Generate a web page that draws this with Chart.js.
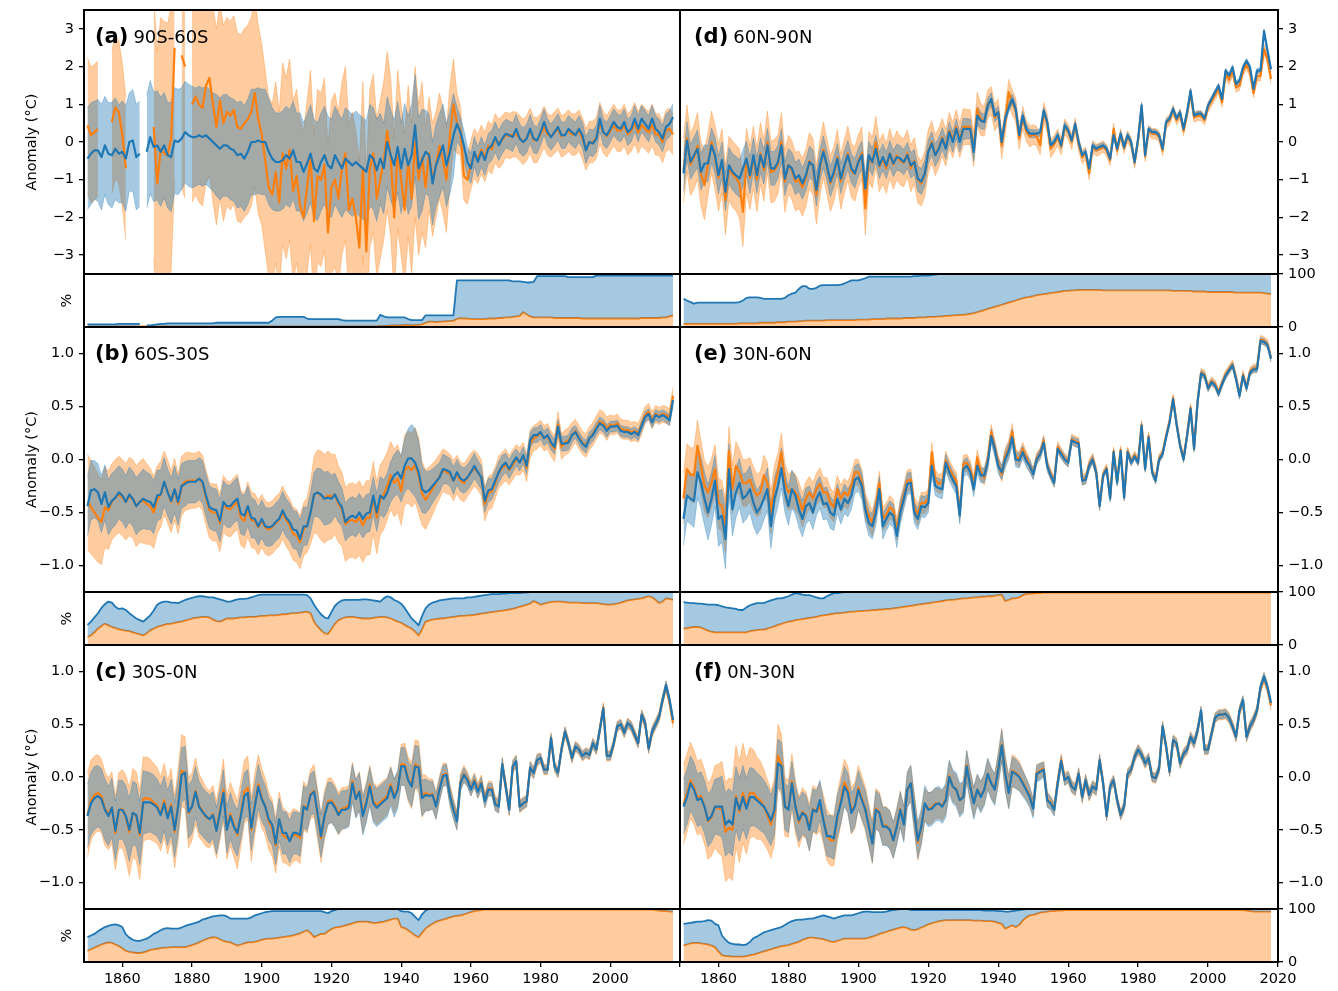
<!DOCTYPE html>
<html>
<head>
<meta charset="utf-8">
<script src="https://cdn.jsdelivr.net/npm/chart.js@4/dist/chart.umd.min.js"></script>
<style>
  html, body { margin: 0; padding: 0; background: #fff; }
  #fig { position: relative; width: 1338px; height: 991px; overflow: hidden; font-family: "DejaVu Sans", sans-serif; }
  #fig canvas { position: absolute; }
  .plabel { position: absolute; font-size: 21px; line-height: 25px; white-space: nowrap; color: #000; font-weight: bold; }
  .plabel span { font-size: 18px; font-weight: normal; margin-left: 5px; }
</style>
</head>
<body>
<div id="fig"></div>
<script>
// ---- years (1850-2018) ----
const years = [];
for (let y = 1850; y <= 2018; y++) years.push(y);

// ---- tick labels ----
const xTickYears = [1860, 1880, 1900, 1920, 1940, 1960, 1980, 2000, 2020];
const xTickLabelsLeft = ['1860', '1880', '1900', '1920', '1940', '1960', '1980', '2000', ''];
const xTickLabelsRight = ['1860', '1880', '1900', '1920', '1940', '1960', '1980', '2000', '2020'];
const yTicksWide = [-3, -2, -1, 0, 1, 2, 3];
const yTickLabelsWide = ['\u22123', '\u22122', '\u22121', '0', '1', '2', '3'];
const yTicksNarrow = [-1, -0.5, 0, 0.5, 1];
const yTickLabelsNarrow = ['\u22121.0', '\u22120.5', '0.0', '0.5', '1.0'];
const yTicksCov = [0, 100];
const yTickLabelsCov = ['0', '100'];

// ================= (a) 90S-60S =================
const a_blue = [
-0.44,-0.31,-0.22,-0.22,-0.40,-0.09,-0.31,-0.35,-0.18,-0.31,
-0.26,-0.44,0.00,0.04,-0.40,-0.31,null,-0.26,0.13,-0.13,
-0.09,-0.26,-0.09,-0.35,-0.40,0.04,0.00,0.09,0.26,0.18,
0.13,0.13,0.18,0.13,0.18,0.09,0.00,-0.09,-0.18,-0.09,
-0.09,-0.18,-0.22,-0.35,-0.31,-0.44,-0.26,0.00,0.00,0.04,
0.00,0.00,-0.26,-0.44,-0.53,-0.53,-0.48,-0.35,-0.44,-0.22,
-0.53,-0.53,-0.79,-0.57,-0.31,-0.70,-0.79,-0.53,-0.35,-0.62,
-0.70,-0.35,-0.53,-0.70,-0.44,-0.53,-0.62,-0.53,-0.62,-0.70,
-0.79,-0.35,-0.44,-0.75,-0.44,-0.70,0.00,-0.35,-0.62,-0.13,
-0.70,-0.18,-0.62,-0.35,0.44,-0.70,-0.48,-0.26,-0.35,-1.10,
-0.62,-0.35,-0.09,-0.62,-0.26,0.18,0.48,0.26,-0.09,-0.53,
-0.70,-0.26,-0.53,-0.26,-0.48,-0.18,-0.09,0.13,-0.09,0.09,
0.22,0.18,0.13,0.35,0.09,0.00,0.09,0.35,0.09,0.04,
0.26,0.53,0.26,0.13,0.26,0.40,0.18,0.18,0.35,0.26,
0.18,0.35,0.18,-0.22,0.00,-0.04,0.09,0.62,0.26,0.18,
0.35,0.53,0.40,0.35,0.53,0.26,0.35,0.62,0.35,0.62,
0.48,0.35,0.62,0.35,0.26,0.09,0.40,0.48,0.66];
const a_orange = [
0.44,0.18,0.26,0.35,null,null,null,0.53,0.92,0.79,
0.18,-0.70,null,null,null,null,null,null,null,0.40,
-1.10,-0.20,-0.30,-0.35,0.10,2.50,null,2.30,2.00,null,
1.00,1.20,1.00,0.90,1.50,1.70,1.00,0.40,1.10,0.50,
0.80,0.70,0.85,0.40,0.35,0.50,0.60,0.80,1.30,0.60,
0.20,-0.50,-1.20,-1.40,-0.80,-1.60,-0.30,-0.70,-0.20,-1.30,
-0.90,-1.70,-2.00,-1.20,-0.40,-2.10,-0.90,-1.00,-0.60,-2.40,
-1.20,-1.00,-1.50,-0.70,-0.30,-1.80,-1.50,-2.00,-2.80,-0.70,
-2.90,-0.70,-0.30,-1.50,-1.00,-0.50,0.30,-0.40,-2.00,-0.20,
-1.00,-1.80,-0.50,-1.50,0.00,-1.00,-0.40,-1.20,-0.30,-1.00,
-0.60,-0.10,-0.50,-1.00,0.20,1.00,0.50,0.30,-0.90,-1.00,
-0.60,-0.30,-0.45,-0.20,-0.40,-0.10,-0.20,0.10,-0.05,0.05,
0.20,0.15,0.20,0.20,0.10,0.00,0.10,0.30,0.05,0.05,
0.20,0.40,0.20,0.15,0.25,0.35,0.15,0.20,0.30,0.20,
0.20,0.30,0.10,-0.20,0.00,0.00,0.10,0.50,0.25,0.15,
0.30,0.45,0.30,0.30,0.45,0.20,0.30,0.50,0.25,0.45,
0.35,0.25,0.45,0.20,0.20,0.00,0.30,0.35,0.20];
const a_blueHW = [
1.35,1.35,1.30,1.35,1.40,1.30,1.35,1.40,1.35,1.30,
1.35,1.40,1.30,1.35,1.40,1.40,null,1.50,1.50,1.45,
1.45,1.45,1.40,1.40,1.45,1.40,1.40,1.35,1.35,1.35,
1.35,1.30,1.30,1.30,1.30,1.30,1.30,1.35,1.35,1.35,
1.35,1.35,1.35,1.40,1.40,1.40,1.40,1.40,1.40,1.40,
1.40,1.40,1.40,1.35,1.30,1.30,1.30,1.30,1.30,1.30,
1.30,1.30,1.30,1.30,1.30,1.30,1.30,1.30,1.30,1.30,
1.30,1.30,1.30,1.30,1.35,1.35,1.35,1.35,1.35,1.35,
1.35,1.35,1.35,1.35,1.20,1.20,1.20,1.20,1.20,1.20,
1.20,1.20,1.30,1.35,1.35,1.35,1.35,1.10,1.10,1.10,
1.10,1.10,1.10,1.10,1.10,1.10,0.45,0.40,0.40,0.40,
0.40,0.40,0.40,0.40,0.40,0.40,0.40,0.40,0.40,0.40,
0.38,0.38,0.38,0.38,0.38,0.38,0.38,0.38,0.38,0.35,
0.35,0.35,0.35,0.35,0.35,0.35,0.35,0.35,0.35,0.35,
0.35,0.35,0.35,0.35,0.35,0.35,0.35,0.35,0.35,0.35,
0.35,0.35,0.35,0.35,0.35,0.35,0.35,0.35,0.35,0.35,
0.35,0.35,0.35,0.35,0.35,0.35,0.35,0.35,0.35];
const a_orangeHW = [
1.80,1.80,1.80,1.80,null,null,null,1.90,1.90,1.90,
1.90,1.90,null,null,null,null,null,null,null,3.50,
3.50,3.50,3.50,3.50,3.50,3.50,null,3.50,3.50,null,
2.60,2.60,2.60,2.60,2.60,2.60,2.60,2.60,2.60,2.60,
2.50,2.50,2.50,2.50,2.50,2.50,2.50,2.50,2.50,2.50,
2.40,2.40,2.40,2.40,2.40,2.40,2.40,2.40,2.40,2.40,
2.30,2.30,2.30,2.30,2.30,2.30,2.30,2.30,2.30,2.30,
2.30,2.30,2.30,2.30,2.30,2.30,2.30,2.30,2.30,2.30,
2.10,2.10,2.10,2.10,2.10,2.10,2.10,2.10,2.10,2.10,
2.00,2.00,2.00,2.00,2.00,2.00,2.00,1.60,1.50,1.50,
1.40,1.40,1.40,1.40,1.30,1.20,0.80,0.65,0.65,0.65,
0.65,0.65,0.65,0.65,0.65,0.65,0.65,0.65,0.65,0.65,
0.60,0.60,0.60,0.60,0.60,0.60,0.60,0.60,0.60,0.60,
0.55,0.55,0.55,0.55,0.55,0.55,0.55,0.55,0.55,0.55,
0.55,0.55,0.55,0.55,0.55,0.55,0.55,0.55,0.55,0.55,
0.55,0.55,0.55,0.55,0.55,0.55,0.55,0.55,0.55,0.55,
0.55,0.55,0.55,0.55,0.55,0.55,0.55,0.55,0.55];
const a_blueCov = [
5,5,5,5,5,5,5,5,5,6,
6,6,6,6,6,6,null,3,3,4,
5,6,6,7,7,7,7,7,7,7,
7,7,7,7,7,7,7,8,8,8,
8,8,8,8,8,8,8,8,8,8,
8,8,8,12,18,19,19,19,19,19,
19,19,19,16,15,15,15,15,15,15,
15,15,15,13,12,12,12,12,12,12,
12,12,12,12,23,20,18,18,18,18,
18,18,15,13,13,13,13,22,22,22,
22,22,22,22,22,22,88,88,88,88,
88,88,88,88,88,88,88,88,88,88,
88,88,86,86,86,85,84,84,85,96,
96,96,96,96,96,96,96,96,94,94,
94,94,94,94,94,94,97,97,97,97,
97,97,97,97,97,97,97,97,97,97,
97,97,97,97,97,97,97,97,97];
const a_orangeCov = [
1,1,1,1,1,1,1,1,1,1,
1,1,1,1,1,1,1,1,1,1,
1,1,1,1,1,1,1,1,1,1,
1,1,1,1,1,1,1,1,1,1,
1,1,1,1,1,1,1,1,1,1,
1,1,1,1,1,1,1,1,1,1,
1,1,1,1,1,1,1,1,1,1,
1,1,1,1,1,1,1,1,1,1,
1,1,1,1,2,2,2,3,3,3,
3,4,4,3,4,4,5,8,10,10,
9,10,10,11,11,12,15,17,16,16,
15,15,15,15,15,16,16,16,17,17,
18,18,19,20,21,28,24,20,18,18,
18,18,18,18,17,17,17,17,17,17,
17,17,16,16,16,16,16,16,16,16,
16,16,16,16,16,16,16,16,16,17,
17,17,17,17,17,18,18,20,22];

// ================= (d) 60N-90N =================
const d_blue = [
-0.83,0.04,-0.53,-0.35,-0.18,-0.79,-0.57,-0.57,-0.09,-0.35,
-0.88,-0.48,-1.32,-0.62,-0.79,-0.88,-0.97,-0.70,-0.44,-0.88,
-0.35,-0.88,-0.35,-0.66,-0.09,-0.70,-0.70,-0.53,-0.09,-0.97,
-0.62,-0.70,-0.97,-0.88,-1.10,-0.88,-0.53,-0.62,-1.27,-0.62,
-0.26,-0.62,-1.05,-0.79,-0.44,-0.97,-0.62,-0.35,-0.70,-0.83,
-0.53,-0.35,-1.23,-0.35,-0.53,-0.18,-0.62,-0.40,-0.62,-0.31,
-0.57,-0.40,-0.44,-0.53,-0.35,-0.62,-0.53,-0.97,-1.05,-0.83,
-0.26,-0.04,-0.35,-0.18,0.09,-0.18,0.26,0.00,0.35,0.00,
0.35,0.35,0.35,-0.26,0.70,0.57,0.53,0.97,1.14,0.70,
0.79,0.00,0.62,0.92,1.14,0.88,0.18,0.70,0.35,0.22,
0.22,0.22,0.26,0.83,0.53,-0.09,0.00,0.18,-0.09,0.44,
0.31,0.04,0.48,0.00,-0.35,-0.26,-0.70,-0.09,-0.18,-0.13,
-0.09,-0.18,-0.44,0.18,-0.18,0.22,-0.13,0.18,0.00,-0.53,
0.09,0.97,-0.35,0.35,0.26,0.26,0.18,-0.18,0.53,0.62,
0.88,0.62,0.79,0.35,0.79,1.36,0.70,0.75,0.75,0.62,
0.97,1.14,1.32,1.49,1.14,1.89,1.76,1.98,1.54,1.63,
1.98,2.15,1.98,1.41,1.89,1.89,2.94,2.42,1.93];
const d_orange = [
-0.75,0.10,-0.60,-0.40,-0.10,-0.85,-1.14,-0.60,0.00,-0.40,
-0.95,-0.50,-1.54,-0.70,-0.85,-0.95,-1.10,-1.85,-0.50,-0.95,
-0.40,-1.00,-0.30,-0.75,0.00,-0.80,-0.75,-0.60,0.00,-1.05,
-0.60,-0.75,-1.05,-1.00,-1.20,-0.95,-0.50,-0.65,-1.40,-0.70,
-0.20,-0.65,-1.10,-0.85,-0.40,-1.05,-0.65,-0.30,-0.75,-0.85,
-0.50,-0.30,-1.76,-0.40,-0.55,0.00,-0.65,-0.45,-0.70,-0.30,
-0.60,-0.35,-0.50,-0.55,-0.30,-0.70,-0.50,-1.00,-1.10,-0.85,
-0.25,0.00,-0.35,-0.15,0.12,-0.15,0.30,0.05,0.40,0.05,
0.40,0.40,0.40,-0.20,0.88,0.60,0.55,1.00,1.10,0.65,
0.80,-0.09,0.55,1.32,1.05,0.85,0.10,0.65,0.30,0.15,
0.20,0.15,-0.09,0.80,0.50,-0.18,-0.05,0.12,-0.12,0.40,
0.28,0.00,0.45,-0.05,-0.40,-0.30,-0.83,-0.12,-0.22,-0.18,
-0.12,-0.22,-0.48,0.35,-0.22,0.20,-0.15,0.15,-0.03,-0.55,
0.05,0.92,-0.38,0.30,0.22,0.22,0.15,-0.22,0.50,0.58,
0.85,0.58,0.75,0.30,0.75,1.30,0.65,0.70,0.70,0.58,
0.92,1.08,1.25,1.42,1.05,1.80,1.65,1.88,1.45,1.50,
1.88,2.05,1.85,1.30,1.75,1.75,2.46,2.20,1.67];
const d_blueHW = [
0.48,0.50,0.46,0.48,0.50,0.48,0.50,0.48,0.46,0.48,
0.50,0.48,0.50,0.48,0.48,0.50,0.50,0.48,0.46,0.48,
0.46,0.48,0.46,0.46,0.45,0.45,0.45,0.44,0.44,0.45,
0.44,0.43,0.43,0.43,0.42,0.42,0.42,0.42,0.43,0.42,
0.42,0.40,0.40,0.40,0.40,0.40,0.39,0.39,0.39,0.39,
0.38,0.37,0.37,0.36,0.36,0.36,0.35,0.35,0.35,0.35,
0.35,0.35,0.34,0.34,0.34,0.34,0.34,0.34,0.34,0.34,
0.32,0.31,0.30,0.30,0.29,0.28,0.28,0.27,0.26,0.26,
0.28,0.27,0.26,0.25,0.24,0.22,0.20,0.18,0.17,0.16,
0.15,0.15,0.14,0.14,0.13,0.13,0.12,0.12,0.12,0.11,
0.11,0.10,0.10,0.10,0.10,0.09,0.09,0.09,0.09,0.09,
0.08,0.08,0.08,0.08,0.08,0.08,0.08,0.08,0.08,0.08,
0.08,0.08,0.08,0.08,0.08,0.08,0.08,0.08,0.08,0.08,
0.07,0.07,0.07,0.07,0.07,0.07,0.07,0.07,0.07,0.07,
0.07,0.07,0.07,0.07,0.07,0.07,0.07,0.07,0.07,0.07,
0.07,0.07,0.07,0.07,0.07,0.07,0.07,0.07,0.07,0.07,
0.07,0.07,0.07,0.07,0.07,0.07,0.07,0.07,0.07];
const d_orangeHW = [
0.85,0.88,0.82,0.85,0.88,0.85,0.92,0.85,0.82,0.85,
0.88,0.85,0.92,0.85,0.88,0.88,0.92,0.92,0.85,0.85,
0.82,0.85,0.82,0.82,0.82,0.82,0.82,0.78,0.78,0.82,
0.78,0.78,0.78,0.76,0.76,0.76,0.75,0.75,0.78,0.75,
0.74,0.74,0.74,0.73,0.73,0.73,0.72,0.72,0.72,0.72,
0.70,0.70,0.70,0.68,0.68,0.68,0.67,0.67,0.66,0.66,
0.65,0.65,0.64,0.64,0.62,0.62,0.62,0.62,0.60,0.60,
0.58,0.56,0.54,0.52,0.50,0.49,0.48,0.47,0.46,0.46,
0.48,0.47,0.46,0.45,0.44,0.42,0.40,0.38,0.37,0.36,
0.35,0.35,0.34,0.34,0.33,0.32,0.30,0.30,0.28,0.28,
0.26,0.26,0.25,0.25,0.24,0.24,0.23,0.22,0.22,0.21,
0.20,0.20,0.19,0.18,0.18,0.17,0.17,0.16,0.16,0.16,
0.15,0.15,0.15,0.15,0.15,0.15,0.15,0.15,0.15,0.15,
0.14,0.14,0.14,0.14,0.14,0.14,0.14,0.14,0.14,0.14,
0.13,0.13,0.13,0.13,0.13,0.13,0.13,0.13,0.13,0.13,
0.13,0.13,0.13,0.13,0.13,0.13,0.13,0.13,0.13,0.13,
0.13,0.13,0.13,0.13,0.13,0.13,0.13,0.13,0.13];
const d_blueCov = [
53,50,47,44,46,46,46,46,46,46,
46,46,46,46,46,46,47,50,55,56,
56,56,55,53,53,53,53,53,53,55,
60,63,65,72,77,77,72,72,74,78,
79,79,79,79,79,80,82,85,88,88,
88,90,92,95,95,95,95,95,95,95,
95,95,95,95,95,95,96,96,97,97,
97,98,99,100,100,100,100,100,100,100,
100,100,100,100,100,100,100,100,100,100,
100,100,100,100,100,100,100,100,100,100,
100,100,100,100,100,100,100,100,100,100,
100,100,100,100,100,100,100,100,100,100,
100,100,100,100,100,100,100,100,100,100,
100,100,100,100,100,100,100,100,100,100,
100,100,100,100,100,100,100,100,100,100,
100,100,100,100,100,100,100,100,100,100,
100,100,100,100,100,100,100,100,100];
const d_orangeCov = [
6,6,6,6,6,6,6,6,6,6,
6,6,6,6,6,6,7,7,7,7,
7,7,8,8,8,8,8,9,9,9,
10,10,10,11,11,12,12,12,12,12,
12,13,13,13,13,13,13,13,13,13,
14,14,14,14,15,15,15,15,16,16,
16,16,16,17,17,17,17,18,18,18,
19,19,19,20,20,21,21,22,22,23,
23,24,25,26,28,30,32,34,36,38,
40,42,44,46,48,50,52,54,56,57,
58,60,61,62,63,64,65,66,67,68,
68,69,69,70,70,70,70,70,70,70,
69,69,69,69,69,69,69,69,69,69,
69,69,69,69,69,69,69,69,69,69,
68,68,68,68,68,68,67,67,67,67,
66,66,66,66,66,66,66,66,65,65,
65,65,65,65,65,65,64,63,62];

// ================= (b) 60S-30S =================
const b_blue = [
-0.44,-0.29,-0.28,-0.31,-0.42,-0.31,-0.45,-0.39,-0.36,-0.31,
-0.34,-0.40,-0.33,-0.37,-0.44,-0.40,-0.37,-0.39,-0.40,-0.45,
-0.34,-0.33,-0.21,-0.31,-0.39,-0.28,-0.40,-0.25,-0.23,-0.21,
-0.21,-0.21,-0.18,-0.21,-0.34,-0.45,-0.47,-0.48,-0.58,-0.40,
-0.44,-0.44,-0.40,-0.37,-0.51,-0.53,-0.44,-0.55,-0.56,-0.63,
-0.56,-0.63,-0.64,-0.63,-0.59,-0.56,-0.48,-0.55,-0.59,-0.66,
-0.67,-0.75,-0.63,-0.63,-0.50,-0.33,-0.31,-0.33,-0.37,-0.36,
-0.37,-0.33,-0.40,-0.45,-0.59,-0.55,-0.53,-0.55,-0.50,-0.56,
-0.51,-0.50,-0.34,-0.50,-0.34,-0.37,-0.31,-0.21,-0.15,-0.12,
-0.18,-0.06,0.01,0.01,-0.03,-0.12,-0.28,-0.31,-0.29,-0.25,
-0.21,-0.17,-0.09,-0.10,-0.12,-0.20,-0.12,-0.18,-0.20,-0.17,
-0.12,-0.06,-0.12,-0.17,-0.39,-0.29,-0.28,-0.20,-0.12,-0.06,
-0.03,-0.09,-0.03,0.02,-0.03,0.04,-0.06,0.18,0.23,0.23,
0.26,0.20,0.23,0.16,0.12,0.31,0.15,0.15,0.16,0.23,
0.26,0.20,0.15,0.12,0.20,0.23,0.29,0.34,0.32,0.27,
0.31,0.31,0.32,0.27,0.26,0.26,0.24,0.26,0.23,0.32,
0.40,0.43,0.35,0.42,0.40,0.42,0.40,0.37,0.56];
const b_orange = [
-0.40,-0.45,-0.50,-0.55,-0.59,-0.45,-0.48,-0.40,-0.36,-0.33,
-0.36,-0.40,-0.35,-0.37,-0.44,-0.40,-0.39,-0.42,-0.44,-0.50,
-0.38,-0.33,-0.22,-0.30,-0.40,-0.28,-0.42,-0.25,-0.21,-0.20,
-0.20,-0.20,-0.18,-0.22,-0.36,-0.48,-0.50,-0.50,-0.60,-0.42,
-0.46,-0.47,-0.43,-0.40,-0.55,-0.58,-0.47,-0.57,-0.58,-0.64,
-0.58,-0.64,-0.66,-0.64,-0.60,-0.57,-0.50,-0.57,-0.62,-0.70,
-0.72,-0.78,-0.66,-0.62,-0.50,-0.33,-0.31,-0.34,-0.37,-0.34,
-0.35,-0.33,-0.42,-0.47,-0.61,-0.58,-0.57,-0.59,-0.55,-0.62,
-0.55,-0.55,-0.36,-0.55,-0.38,-0.33,-0.25,-0.15,-0.22,-0.18,
-0.30,-0.10,-0.07,-0.10,-0.05,-0.15,-0.32,-0.38,-0.33,-0.28,
-0.22,-0.16,-0.10,-0.12,-0.14,-0.20,-0.14,-0.20,-0.22,-0.17,
-0.12,-0.08,-0.12,-0.17,-0.42,-0.32,-0.30,-0.22,-0.12,-0.08,
-0.05,-0.10,-0.05,0.00,-0.02,0.03,-0.08,0.15,0.20,0.22,
0.25,0.20,0.22,0.15,0.10,0.33,0.12,0.16,0.18,0.23,
0.27,0.21,0.16,0.13,0.20,0.24,0.30,0.36,0.34,0.29,
0.33,0.32,0.34,0.29,0.28,0.28,0.26,0.27,0.25,0.33,
0.42,0.45,0.37,0.43,0.41,0.43,0.42,0.40,0.60];
const b_blueHW = [
0.28,0.28,0.27,0.27,0.27,0.26,0.26,0.26,0.26,0.25,
0.25,0.25,0.26,0.26,0.27,0.27,0.28,0.27,0.26,0.25,
0.24,0.23,0.23,0.22,0.22,0.22,0.22,0.21,0.21,0.20,
0.20,0.20,0.20,0.20,0.20,0.20,0.20,0.20,0.20,0.20,
0.20,0.20,0.20,0.20,0.19,0.19,0.19,0.19,0.18,0.18,
0.18,0.18,0.18,0.18,0.18,0.18,0.18,0.18,0.18,0.18,
0.18,0.18,0.18,0.18,0.19,0.21,0.23,0.24,0.25,0.25,
0.22,0.20,0.19,0.18,0.18,0.18,0.18,0.18,0.18,0.18,
0.18,0.18,0.18,0.18,0.18,0.18,0.18,0.19,0.20,0.21,
0.22,0.25,0.28,0.32,0.32,0.30,0.22,0.20,0.18,0.16,
0.15,0.14,0.14,0.13,0.13,0.13,0.12,0.12,0.12,0.12,
0.12,0.12,0.11,0.11,0.11,0.11,0.10,0.10,0.10,0.10,
0.09,0.09,0.09,0.08,0.08,0.08,0.08,0.07,0.07,0.07,
0.07,0.07,0.07,0.07,0.07,0.07,0.07,0.07,0.07,0.07,
0.06,0.06,0.06,0.06,0.06,0.06,0.06,0.06,0.06,0.06,
0.05,0.05,0.05,0.05,0.05,0.05,0.05,0.05,0.05,0.05,
0.05,0.05,0.05,0.05,0.05,0.05,0.05,0.05,0.05];
const b_orangeHW = [
0.45,0.44,0.43,0.42,0.40,0.38,0.37,0.36,0.36,0.36,
0.36,0.36,0.37,0.37,0.38,0.38,0.40,0.38,0.36,0.34,
0.32,0.31,0.30,0.30,0.29,0.29,0.28,0.28,0.27,0.27,
0.26,0.26,0.26,0.26,0.26,0.26,0.27,0.27,0.27,0.27,
0.26,0.26,0.26,0.26,0.26,0.26,0.26,0.26,0.26,0.26,
0.25,0.25,0.25,0.25,0.25,0.25,0.25,0.25,0.25,0.25,
0.25,0.25,0.25,0.26,0.30,0.36,0.40,0.42,0.42,0.42,
0.40,0.38,0.36,0.35,0.35,0.35,0.35,0.35,0.35,0.35,
0.35,0.35,0.34,0.34,0.33,0.33,0.32,0.32,0.32,0.32,
0.32,0.33,0.34,0.35,0.35,0.36,0.30,0.28,0.26,0.24,
0.22,0.21,0.20,0.20,0.19,0.19,0.18,0.18,0.18,0.18,
0.18,0.17,0.17,0.17,0.16,0.16,0.16,0.15,0.15,0.15,
0.15,0.14,0.14,0.14,0.13,0.13,0.13,0.13,0.12,0.12,
0.12,0.12,0.12,0.12,0.12,0.12,0.12,0.12,0.12,0.12,
0.11,0.11,0.11,0.11,0.11,0.11,0.11,0.11,0.11,0.11,
0.09,0.09,0.09,0.09,0.09,0.09,0.09,0.09,0.09,0.09,
0.08,0.08,0.08,0.08,0.08,0.08,0.08,0.08,0.08];
const b_blueCov = [
38,44,52,60,70,77,82,80,72,68,
69,66,60,55,50,47,44,50,56,65,
76,80,82,82,80,80,79,82,85,87,
89,91,92,92,91,90,90,88,86,84,
82,82,84,86,87,87,88,90,92,94,
95,95,95,95,95,95,95,95,95,95,
95,95,95,94,88,76,66,58,52,50,
62,74,80,84,85,85,85,85,85,86,
86,85,84,83,82,88,92,90,85,82,
78,70,60,50,44,37,55,69,76,80,
82,84,85,86,87,88,88,88,88,90,
90,91,92,93,94,95,96,96,96,97,
97,98,98,98,98,99,99,100,100,100,
100,100,100,100,100,100,100,100,100,100,
100,100,100,100,100,100,100,100,100,100,
100,100,100,100,100,100,100,100,100,100,
100,100,100,100,100,100,100,100,100];
const b_orangeCov = [
15,18,24,31,36,40,37,34,32,30,
28,27,26,24,22,20,18,22,28,31,
34,36,38,40,40,42,43,44,46,48,
50,51,52,53,53,52,48,45,44,47,
50,50,50,51,52,52,53,53,53,54,
55,55,56,56,56,57,58,58,59,60,
60,61,62,63,60,44,35,28,22,21,
30,40,47,50,52,53,53,52,51,50,
50,50,51,52,53,53,52,50,47,44,
42,38,34,31,25,18,30,44,46,48,
49,50,50,51,52,53,54,55,55,56,
56,57,58,59,60,61,62,63,64,65,
66,67,68,70,72,74,76,78,83,80,
76,78,80,81,82,82,82,81,80,80,
80,80,79,79,79,79,79,78,77,76,
76,77,78,80,82,84,85,86,87,88,
90,92,90,85,79,82,88,87,85];

// ================= (e) 30N-60N =================
const e_blue = [
-0.56,-0.34,-0.37,-0.39,-0.12,-0.22,-0.37,-0.50,-0.37,-0.20,
-0.56,-0.53,-0.75,-0.09,-0.47,-0.31,-0.22,-0.37,-0.34,-0.28,
-0.41,-0.50,-0.45,-0.37,-0.28,-0.63,-0.37,-0.25,-0.08,-0.31,
-0.44,-0.28,-0.34,-0.47,-0.56,-0.44,-0.41,-0.50,-0.37,-0.31,
-0.42,-0.41,-0.50,-0.53,-0.37,-0.47,-0.37,-0.41,-0.34,-0.19,
-0.17,-0.25,-0.47,-0.60,-0.63,-0.50,-0.28,-0.63,-0.56,-0.50,
-0.53,-0.72,-0.50,-0.37,-0.23,-0.22,-0.50,-0.56,-0.44,-0.45,
-0.41,-0.06,-0.25,-0.27,-0.28,-0.03,-0.12,-0.19,-0.25,-0.53,
-0.09,-0.06,-0.12,-0.28,-0.06,-0.15,-0.15,-0.03,0.22,0.10,
-0.06,-0.12,0.00,0.08,0.21,0.00,-0.01,0.07,-0.01,-0.06,
-0.14,0.00,0.05,0.16,-0.06,-0.15,-0.22,0.10,0.05,0.00,
-0.03,0.18,0.16,0.15,-0.20,-0.19,-0.06,0.00,-0.12,-0.44,
-0.15,-0.09,-0.37,0.07,-0.22,0.08,-0.36,0.07,-0.03,0.03,
-0.03,0.32,-0.09,0.21,-0.12,-0.20,0.00,0.05,0.21,0.35,
0.57,0.33,0.13,0.00,0.22,0.48,0.10,0.54,0.81,0.79,
0.67,0.73,0.70,0.62,0.71,0.79,0.84,0.89,0.76,0.60,
0.79,0.67,0.82,0.85,0.85,1.12,1.11,1.08,0.95];
const e_orange = [
-0.37,-0.09,-0.14,-0.15,0.13,-0.06,-0.25,-0.31,-0.22,-0.09,
-0.41,-0.44,-0.63,0.08,-0.28,-0.06,-0.12,-0.22,-0.22,-0.19,
-0.28,-0.34,-0.31,-0.15,-0.22,-0.50,-0.25,-0.12,0.07,-0.22,
-0.31,-0.28,-0.31,-0.37,-0.48,-0.37,-0.31,-0.37,-0.28,-0.23,
-0.31,-0.31,-0.41,-0.45,-0.28,-0.37,-0.31,-0.34,-0.25,-0.12,
-0.12,-0.22,-0.44,-0.53,-0.60,-0.45,-0.22,-0.56,-0.52,-0.45,
-0.48,-0.66,-0.47,-0.34,-0.20,-0.19,-0.45,-0.52,-0.41,-0.41,
-0.37,0.07,-0.19,-0.23,-0.22,-0.01,-0.09,-0.15,-0.20,-0.50,
-0.04,-0.03,-0.09,-0.23,0.02,-0.12,-0.17,0.00,0.26,0.11,
-0.03,-0.14,0.03,0.10,0.26,0.03,0.00,0.10,0.02,-0.06,
-0.13,0.01,0.06,0.18,-0.05,-0.14,-0.21,0.12,0.06,0.01,
-0.02,0.19,0.17,0.16,-0.19,-0.18,-0.05,0.01,-0.11,-0.43,
-0.14,-0.08,-0.36,0.08,-0.21,0.09,-0.35,0.08,-0.02,0.04,
-0.02,0.33,-0.08,0.22,-0.11,-0.19,0.01,0.06,0.22,0.36,
0.58,0.34,0.14,0.01,0.23,0.49,0.11,0.55,0.82,0.80,
0.68,0.74,0.71,0.63,0.72,0.80,0.85,0.90,0.77,0.61,
0.80,0.68,0.83,0.86,0.86,1.13,1.12,1.09,0.96];
const e_blueHW = [
0.25,0.24,0.24,0.25,0.24,0.24,0.25,0.26,0.25,0.24,
0.26,0.25,0.28,0.24,0.25,0.24,0.23,0.23,0.22,0.22,
0.22,0.21,0.21,0.20,0.20,0.21,0.20,0.19,0.19,0.19,
0.18,0.18,0.18,0.17,0.17,0.17,0.16,0.16,0.16,0.15,
0.15,0.15,0.15,0.14,0.14,0.14,0.14,0.13,0.13,0.13,
0.13,0.13,0.12,0.12,0.12,0.12,0.12,0.12,0.11,0.11,
0.11,0.11,0.11,0.10,0.10,0.10,0.10,0.10,0.10,0.10,
0.09,0.09,0.09,0.09,0.09,0.08,0.08,0.08,0.08,0.08,
0.08,0.08,0.07,0.07,0.07,0.07,0.07,0.07,0.07,0.07,
0.07,0.07,0.08,0.08,0.08,0.07,0.07,0.06,0.06,0.06,
0.05,0.05,0.05,0.05,0.05,0.04,0.04,0.04,0.04,0.04,
0.04,0.04,0.04,0.04,0.04,0.04,0.04,0.04,0.04,0.04,
0.03,0.03,0.03,0.03,0.03,0.03,0.03,0.03,0.03,0.03,
0.03,0.03,0.03,0.03,0.03,0.03,0.03,0.03,0.03,0.03,
0.03,0.03,0.03,0.03,0.03,0.03,0.03,0.03,0.03,0.03,
0.03,0.03,0.03,0.03,0.03,0.03,0.03,0.03,0.03,0.03,
0.03,0.03,0.03,0.03,0.03,0.03,0.03,0.03,0.03];
const e_orangeHW = [
0.24,0.24,0.25,0.26,0.24,0.24,0.24,0.24,0.23,0.23,
0.24,0.24,0.25,0.23,0.23,0.23,0.22,0.22,0.22,0.21,
0.21,0.20,0.20,0.19,0.19,0.20,0.19,0.18,0.18,0.18,
0.17,0.17,0.17,0.16,0.16,0.16,0.15,0.15,0.15,0.15,
0.14,0.14,0.14,0.14,0.13,0.13,0.13,0.13,0.13,0.12,
0.12,0.12,0.12,0.12,0.12,0.11,0.11,0.11,0.11,0.11,
0.10,0.10,0.10,0.10,0.10,0.10,0.10,0.10,0.10,0.10,
0.09,0.09,0.09,0.09,0.09,0.09,0.08,0.08,0.08,0.08,
0.08,0.08,0.08,0.08,0.07,0.07,0.07,0.07,0.07,0.07,
0.07,0.07,0.08,0.08,0.08,0.07,0.07,0.06,0.06,0.06,
0.05,0.05,0.05,0.05,0.05,0.05,0.05,0.05,0.05,0.05,
0.05,0.05,0.05,0.05,0.05,0.05,0.05,0.05,0.05,0.05,
0.04,0.04,0.04,0.04,0.04,0.04,0.04,0.04,0.04,0.04,
0.04,0.04,0.04,0.04,0.04,0.04,0.04,0.04,0.04,0.04,
0.04,0.04,0.04,0.04,0.04,0.04,0.04,0.04,0.04,0.04,
0.04,0.04,0.04,0.04,0.04,0.04,0.04,0.04,0.04,0.04,
0.04,0.04,0.04,0.04,0.04,0.04,0.04,0.04,0.04];
const e_blueCov = [
81,80,79,79,78,78,77,76,76,76,
75,73,71,70,69,68,66,66,71,75,
77,79,79,79,82,84,86,88,88,90,
92,95,98,97,95,94,94,92,90,88,
88,92,95,98,98,99,100,100,100,100,
100,100,100,100,100,100,100,100,100,100,
100,100,100,100,100,100,100,100,100,100,
100,100,100,100,100,100,100,100,100,100,
100,100,100,100,100,100,100,100,100,100,
100,100,100,100,100,100,100,100,100,100,
100,100,100,100,100,100,100,100,100,100,
100,100,100,100,100,100,100,100,100,100,
100,100,100,100,100,100,100,100,100,100,
100,100,100,100,100,100,100,100,100,100,
100,100,100,100,100,100,100,100,100,100,
100,100,100,100,100,100,100,100,100,100,
100,100,100,100,100,100,100,100,100];
const e_orangeCov = [
31,32,33,34,34,33,30,27,25,24,
24,24,24,24,24,24,24,24,24,26,
27,28,29,29,31,33,35,38,40,42,
44,45,47,48,49,50,51,52,53,55,
56,57,58,59,60,60,61,62,63,63,
64,64,65,65,66,66,67,67,68,68,
69,70,71,72,73,74,75,76,77,78,
79,80,81,82,83,84,85,85,86,87,
88,88,89,90,90,91,91,92,92,93,
94,95,83,85,88,88,90,94,96,97,
97,98,98,99,99,99,99,99,99,99,
99,99,99,99,99,99,99,99,99,99,
99,99,99,99,99,99,99,99,99,99,
99,99,99,99,99,99,99,99,99,99,
99,99,99,99,99,99,99,99,99,99,
99,99,99,99,99,99,99,99,99,99,
99,99,99,99,99,99,99,99,99];

// ================= (c) 30S-0N =================
const c_blue = [
-0.37,-0.25,-0.20,-0.18,-0.21,-0.31,-0.37,-0.29,-0.51,-0.31,
-0.31,-0.37,-0.50,-0.34,-0.36,-0.53,-0.24,-0.24,-0.24,-0.26,
-0.29,-0.36,-0.25,-0.39,-0.28,-0.50,-0.28,0.02,0.04,-0.33,
-0.28,-0.14,-0.28,-0.33,-0.37,-0.40,-0.36,-0.51,-0.34,-0.15,
-0.50,-0.37,-0.47,-0.53,-0.37,-0.18,-0.15,-0.48,-0.28,-0.09,
-0.21,-0.28,-0.40,-0.45,-0.63,-0.40,-0.53,-0.53,-0.61,-0.53,
-0.53,-0.55,-0.28,-0.31,-0.17,-0.14,-0.34,-0.56,-0.37,-0.25,
-0.24,-0.29,-0.36,-0.31,-0.31,-0.29,-0.06,-0.21,-0.14,-0.37,
-0.25,-0.09,-0.25,-0.29,-0.26,-0.23,-0.20,-0.09,-0.20,-0.12,
0.10,0.10,-0.03,-0.09,0.10,0.09,-0.20,-0.17,-0.18,-0.17,
-0.28,-0.12,0.01,0.02,-0.18,-0.31,-0.42,-0.06,0.02,-0.03,
-0.12,-0.04,-0.14,-0.06,-0.23,-0.12,-0.12,-0.26,-0.28,0.12,
-0.09,-0.31,0.10,0.15,-0.28,-0.25,-0.23,0.09,0.04,0.16,
0.18,0.07,0.07,0.37,0.10,0.04,0.26,0.43,0.32,0.18,
0.29,0.26,0.20,0.23,0.21,0.32,0.26,0.45,0.65,0.20,
0.20,0.32,0.48,0.50,0.42,0.51,0.48,0.40,0.32,0.59,
0.51,0.27,0.43,0.50,0.57,0.73,0.87,0.73,0.54];
const c_orange = [
-0.36,-0.22,-0.17,-0.15,-0.18,-0.30,-0.35,-0.29,-0.53,-0.32,
-0.30,-0.38,-0.52,-0.34,-0.37,-0.55,-0.21,-0.20,-0.21,-0.24,
-0.27,-0.35,-0.22,-0.38,-0.26,-0.52,-0.27,0.06,0.04,-0.34,
-0.28,-0.13,-0.27,-0.32,-0.38,-0.40,-0.35,-0.50,-0.32,-0.12,
-0.48,-0.35,-0.45,-0.55,-0.35,-0.14,-0.10,-0.50,-0.26,-0.07,
-0.20,-0.28,-0.42,-0.48,-0.65,-0.40,-0.55,-0.57,-0.60,-0.55,
-0.55,-0.58,-0.27,-0.31,-0.16,-0.13,-0.35,-0.58,-0.36,-0.23,
-0.22,-0.27,-0.35,-0.30,-0.29,-0.27,-0.04,-0.20,-0.13,-0.35,
-0.23,-0.07,-0.23,-0.27,-0.24,-0.21,-0.18,-0.07,-0.18,-0.11,
0.12,0.12,-0.02,-0.08,0.12,0.10,-0.18,-0.15,-0.17,-0.16,
-0.27,-0.11,0.02,0.03,-0.17,-0.30,-0.41,-0.05,0.03,-0.02,
-0.11,-0.03,-0.13,-0.05,-0.22,-0.11,-0.11,-0.25,-0.27,0.12,
-0.09,-0.31,0.10,0.15,-0.28,-0.25,-0.23,0.09,0.04,0.16,
0.18,0.07,0.07,0.37,0.10,0.04,0.26,0.43,0.32,0.18,
0.29,0.26,0.20,0.23,0.21,0.32,0.26,0.45,0.66,0.20,
0.20,0.32,0.48,0.50,0.42,0.51,0.48,0.40,0.32,0.59,
0.51,0.27,0.43,0.50,0.57,0.73,0.86,0.71,0.51];
const c_blueHW = [
0.30,0.30,0.30,0.29,0.29,0.29,0.28,0.28,0.28,0.28,
0.28,0.29,0.30,0.30,0.30,0.30,0.30,0.29,0.28,0.28,
0.27,0.27,0.26,0.26,0.26,0.26,0.26,0.26,0.25,0.25,
0.25,0.24,0.24,0.23,0.23,0.23,0.22,0.22,0.22,0.22,
0.22,0.22,0.22,0.22,0.22,0.22,0.22,0.22,0.21,0.21,
0.21,0.20,0.20,0.20,0.20,0.20,0.20,0.20,0.20,0.20,
0.20,0.20,0.20,0.20,0.20,0.20,0.20,0.20,0.20,0.20,
0.19,0.19,0.18,0.18,0.18,0.18,0.18,0.18,0.18,0.18,
0.18,0.18,0.18,0.18,0.18,0.18,0.18,0.18,0.18,0.18,
0.18,0.18,0.18,0.19,0.20,0.20,0.17,0.15,0.14,0.13,
0.12,0.11,0.10,0.10,0.09,0.09,0.08,0.07,0.07,0.06,
0.06,0.06,0.06,0.06,0.06,0.06,0.06,0.06,0.06,0.06,
0.05,0.05,0.05,0.05,0.05,0.05,0.05,0.05,0.05,0.05,
0.04,0.04,0.04,0.04,0.04,0.04,0.04,0.04,0.04,0.04,
0.04,0.04,0.04,0.04,0.04,0.04,0.04,0.04,0.04,0.04,
0.04,0.04,0.04,0.04,0.04,0.04,0.04,0.04,0.04,0.04,
0.04,0.04,0.04,0.04,0.04,0.04,0.04,0.04,0.04];
const c_orangeHW = [
0.40,0.38,0.37,0.36,0.35,0.35,0.34,0.34,0.35,0.36,
0.37,0.40,0.42,0.42,0.42,0.42,0.40,0.39,0.38,0.37,
0.36,0.35,0.35,0.35,0.34,0.34,0.34,0.34,0.34,0.33,
0.32,0.31,0.30,0.29,0.28,0.27,0.27,0.27,0.28,0.29,
0.30,0.30,0.31,0.32,0.31,0.30,0.30,0.30,0.29,0.28,
0.28,0.27,0.27,0.27,0.26,0.26,0.26,0.25,0.25,0.25,
0.24,0.24,0.23,0.22,0.23,0.25,0.24,0.23,0.23,0.22,
0.21,0.20,0.20,0.20,0.19,0.19,0.18,0.18,0.18,0.18,
0.18,0.18,0.18,0.18,0.18,0.18,0.17,0.17,0.16,0.16,
0.19,0.20,0.21,0.22,0.23,0.24,0.20,0.17,0.15,0.14,
0.13,0.12,0.11,0.10,0.10,0.09,0.09,0.08,0.08,0.07,
0.07,0.07,0.07,0.07,0.07,0.07,0.07,0.07,0.07,0.07,
0.06,0.06,0.06,0.06,0.06,0.06,0.06,0.06,0.06,0.06,
0.05,0.05,0.05,0.05,0.05,0.05,0.05,0.05,0.05,0.05,
0.05,0.05,0.05,0.05,0.05,0.05,0.05,0.05,0.05,0.05,
0.05,0.05,0.05,0.05,0.05,0.05,0.05,0.05,0.05,0.05,
0.05,0.05,0.05,0.05,0.05,0.05,0.05,0.05,0.05];
const c_blueCov = [
47,50,53,58,62,66,68,70,71,69,
66,52,46,42,40,40,42,44,48,53,
56,60,63,64,63,63,63,65,68,70,
72,74,76,80,82,84,86,87,88,88,
86,82,82,82,82,82,82,84,88,90,
92,94,95,96,96,96,96,96,96,96,
96,96,96,96,96,96,96,96,94,92,
96,98,100,100,100,100,100,100,100,100,
100,100,100,100,100,100,100,100,100,100,
96,95,95,92,85,79,90,97,100,100,
100,100,100,100,100,100,100,100,100,100,
100,100,100,100,100,100,100,100,100,100,
100,100,100,100,100,100,100,100,100,100,
100,100,100,100,100,100,100,100,100,100,
100,100,100,100,100,100,100,100,100,100,
100,100,100,100,100,100,100,100,100,100,
100,100,100,100,100,100,100,100,100];
const c_orangeCov = [
21,24,27,30,33,35,37,36,33,30,
26,21,19,18,17,17,18,20,23,24,
25,26,27,27,28,28,28,28,28,30,
32,34,37,40,43,45,47,46,43,40,
38,37,34,31,33,35,37,37,38,40,
42,43,44,44,45,46,47,48,49,50,
52,54,57,60,55,47,50,53,53,58,
62,65,66,67,69,71,73,75,76,76,
76,75,74,74,75,76,78,80,82,82,
66,64,60,55,50,47,55,63,68,72,
76,78,80,82,84,86,87,88,90,92,
94,96,97,98,99,99,99,99,99,99,
99,99,99,99,99,99,99,99,99,99,
99,99,99,99,99,99,99,99,99,99,
99,99,99,99,99,99,99,99,99,99,
99,99,99,99,99,99,99,99,99,99,
99,99,99,98,97,96,96,95,95];

// ================= (f) 0N-30N =================
const f_blue = [
-0.28,-0.19,-0.06,-0.12,-0.22,-0.20,-0.28,-0.41,-0.37,-0.28,
-0.28,-0.28,-0.45,-0.41,-0.45,-0.20,-0.31,-0.19,-0.30,-0.19,
-0.19,-0.22,-0.25,-0.28,-0.34,-0.41,-0.31,0.13,0.10,-0.28,
-0.31,-0.06,-0.28,-0.41,-0.34,-0.37,-0.50,-0.31,-0.33,-0.22,
-0.41,-0.56,-0.56,-0.58,-0.37,-0.25,-0.09,-0.15,-0.34,-0.28,
-0.12,-0.22,-0.31,-0.47,-0.63,-0.31,-0.34,-0.47,-0.47,-0.50,
-0.60,-0.47,-0.31,-0.45,-0.12,-0.06,-0.34,-0.60,-0.47,-0.25,
-0.31,-0.30,-0.26,-0.25,-0.28,-0.22,0.00,-0.09,-0.12,-0.22,
-0.19,0.10,-0.09,-0.25,-0.12,-0.19,-0.12,0.03,-0.06,-0.12,
0.07,0.30,0.03,-0.15,0.05,0.03,0.00,-0.06,-0.12,-0.19,
-0.30,0.03,0.05,0.07,-0.22,-0.25,-0.31,-0.06,0.15,-0.03,
0.00,-0.09,-0.12,0.03,-0.19,-0.03,-0.17,-0.09,-0.12,0.16,
-0.06,-0.37,-0.09,-0.03,-0.22,-0.36,-0.28,0.03,0.07,0.19,
0.26,0.21,0.13,0.18,0.00,-0.01,0.08,0.48,0.29,0.05,
0.35,0.32,0.13,0.22,0.26,0.38,0.32,0.44,0.63,0.26,
0.26,0.41,0.56,0.59,0.59,0.60,0.56,0.48,0.38,0.63,
0.73,0.38,0.48,0.54,0.63,0.85,0.95,0.85,0.70];
const f_orange = [
-0.26,-0.15,-0.03,-0.10,-0.20,-0.18,-0.28,-0.42,-0.38,-0.28,
-0.30,-0.30,-0.52,-0.48,-0.50,-0.18,-0.33,-0.15,-0.28,-0.15,
-0.15,-0.20,-0.22,-0.28,-0.36,-0.45,-0.33,0.20,0.12,-0.28,
-0.30,-0.04,-0.28,-0.43,-0.33,-0.36,-0.48,-0.30,-0.33,-0.28,
-0.40,-0.55,-0.60,-0.60,-0.38,-0.22,-0.05,-0.12,-0.32,-0.27,
-0.10,-0.20,-0.30,-0.46,-0.62,-0.30,-0.33,-0.46,-0.46,-0.50,
-0.60,-0.46,-0.30,-0.44,-0.12,-0.06,-0.33,-0.62,-0.48,-0.26,
-0.30,-0.29,-0.25,-0.25,-0.27,-0.21,0.01,-0.09,-0.12,-0.22,
-0.18,0.11,-0.08,-0.24,-0.12,-0.18,-0.12,0.03,-0.06,-0.11,
0.08,0.31,0.04,-0.14,0.06,0.04,0.01,-0.05,-0.11,-0.18,
-0.29,0.04,0.06,0.08,-0.21,-0.24,-0.30,-0.05,0.16,-0.02,
0.00,-0.09,-0.12,0.03,-0.19,-0.03,-0.17,-0.09,-0.12,0.16,
-0.06,-0.37,-0.09,-0.03,-0.22,-0.36,-0.28,0.03,0.07,0.19,
0.26,0.21,0.13,0.18,0.00,-0.01,0.08,0.48,0.29,0.05,
0.35,0.32,0.13,0.22,0.26,0.38,0.32,0.44,0.62,0.26,
0.26,0.41,0.56,0.59,0.59,0.60,0.56,0.48,0.38,0.63,
0.72,0.38,0.48,0.54,0.63,0.84,0.94,0.84,0.68];
const f_blueHW = [
0.26,0.26,0.26,0.26,0.25,0.25,0.25,0.25,0.25,0.26,
0.27,0.29,0.30,0.30,0.30,0.30,0.30,0.30,0.29,0.28,
0.27,0.26,0.26,0.25,0.25,0.24,0.24,0.23,0.23,0.22,
0.22,0.21,0.21,0.20,0.20,0.20,0.20,0.20,0.20,0.19,
0.19,0.19,0.20,0.20,0.20,0.19,0.19,0.19,0.19,0.19,
0.18,0.18,0.18,0.18,0.18,0.18,0.18,0.18,0.18,0.18,
0.17,0.17,0.17,0.17,0.17,0.17,0.17,0.17,0.17,0.17,
0.16,0.16,0.16,0.16,0.16,0.16,0.16,0.16,0.16,0.16,
0.15,0.15,0.15,0.15,0.15,0.15,0.15,0.15,0.15,0.15,
0.15,0.15,0.16,0.15,0.14,0.14,0.13,0.12,0.11,0.10,
0.09,0.08,0.08,0.07,0.07,0.06,0.06,0.06,0.05,0.05,
0.05,0.05,0.05,0.05,0.05,0.05,0.05,0.05,0.05,0.05,
0.04,0.04,0.04,0.04,0.04,0.04,0.04,0.04,0.04,0.04,
0.04,0.04,0.04,0.04,0.04,0.04,0.04,0.04,0.04,0.04,
0.04,0.04,0.04,0.04,0.04,0.04,0.04,0.04,0.04,0.04,
0.04,0.04,0.04,0.04,0.04,0.04,0.04,0.04,0.04,0.04,
0.04,0.04,0.04,0.04,0.04,0.04,0.04,0.04,0.04];
const f_orangeHW = [
0.38,0.37,0.36,0.35,0.35,0.35,0.35,0.36,0.37,0.39,
0.42,0.45,0.47,0.47,0.48,0.48,0.48,0.47,0.45,0.43,
0.41,0.39,0.37,0.35,0.33,0.32,0.31,0.30,0.29,0.28,
0.27,0.26,0.25,0.24,0.23,0.22,0.22,0.22,0.22,0.23,
0.23,0.24,0.24,0.24,0.23,0.23,0.22,0.22,0.22,0.22,
0.21,0.21,0.21,0.20,0.20,0.19,0.19,0.18,0.18,0.18,
0.17,0.17,0.17,0.16,0.16,0.17,0.17,0.17,0.16,0.15,
0.15,0.15,0.14,0.14,0.14,0.14,0.14,0.14,0.14,0.14,
0.14,0.14,0.14,0.14,0.14,0.14,0.14,0.14,0.14,0.14,
0.15,0.15,0.17,0.16,0.15,0.15,0.14,0.12,0.10,0.09,
0.08,0.08,0.07,0.07,0.07,0.06,0.06,0.06,0.06,0.06,
0.06,0.06,0.06,0.06,0.06,0.06,0.06,0.06,0.06,0.06,
0.05,0.05,0.05,0.05,0.05,0.05,0.05,0.05,0.05,0.05,
0.05,0.05,0.05,0.05,0.05,0.05,0.05,0.05,0.05,0.05,
0.05,0.05,0.05,0.05,0.05,0.05,0.05,0.05,0.05,0.05,
0.05,0.05,0.05,0.05,0.05,0.05,0.05,0.05,0.05,0.05,
0.05,0.05,0.05,0.05,0.05,0.05,0.05,0.05,0.05];
const f_blueCov = [
72,73,74,75,76,76,77,79,78,72,
69,50,42,36,34,33,33,32,33,38,
45,48,52,56,58,60,62,64,66,70,
74,77,79,80,80,81,82,82,84,86,
88,86,84,82,84,86,88,88,88,90,
92,94,95,95,94,94,94,94,95,97,
98,99,100,100,100,98,98,98,98,98,
98,98,98,98,98,98,98,98,98,98,
98,98,98,98,98,98,97,97,97,97,
96,96,95,95,96,97,98,99,100,100,
100,100,100,100,100,100,100,100,100,100,
100,100,100,100,100,100,100,100,100,100,
100,100,100,100,100,100,100,100,100,100,
100,100,100,100,100,100,100,100,100,100,
100,100,100,100,100,100,100,100,100,100,
100,100,100,100,100,100,100,100,100,100,
100,100,100,100,100,100,100,100,100];
const f_orangeCov = [
31,33,35,36,36,35,34,33,31,28,
20,13,11,11,10,10,10,10,11,13,
14,16,18,20,22,24,26,28,30,31,
32,34,36,38,42,44,46,46,45,44,
43,41,39,38,40,42,44,44,44,44,
44,44,44,46,48,50,53,55,57,59,
61,63,65,66,64,61,60,62,65,68,
71,73,75,77,78,79,79,79,79,79,
79,79,79,78,78,78,77,77,77,76,
74,72,63,66,69,66,70,78,84,88,
89,91,93,94,95,96,96,97,97,98,
98,98,98,98,98,98,98,98,98,98,
98,98,98,98,98,98,98,98,98,98,
98,98,98,98,98,98,98,98,98,98,
98,98,98,98,98,98,98,98,98,98,
98,98,98,98,98,98,98,98,98,98,
98,97,96,95,95,95,95,95,95];

// ---- panel definitions ----
const panels = [
  { col: 'L', row: 0, tag: '(a)', name: '90S-60S', wide: true,
    blue: a_blue, orange: a_orange, blueHW: a_blueHW, orangeHW: a_orangeHW, blueCov: a_blueCov, orangeCov: a_orangeCov },
  { col: 'L', row: 1, tag: '(b)', name: '60S-30S', wide: false,
    blue: b_blue, orange: b_orange, blueHW: b_blueHW, orangeHW: b_orangeHW, blueCov: b_blueCov, orangeCov: b_orangeCov },
  { col: 'L', row: 2, tag: '(c)', name: '30S-0N', wide: false,
    blue: c_blue, orange: c_orange, blueHW: c_blueHW, orangeHW: c_orangeHW, blueCov: c_blueCov, orangeCov: c_orangeCov },
  { col: 'R', row: 0, tag: '(d)', name: '60N-90N', wide: true,
    blue: d_blue, orange: d_orange, blueHW: d_blueHW, orangeHW: d_orangeHW, blueCov: d_blueCov, orangeCov: d_orangeCov },
  { col: 'R', row: 1, tag: '(e)', name: '30N-60N', wide: false,
    blue: e_blue, orange: e_orange, blueHW: e_blueHW, orangeHW: e_orangeHW, blueCov: e_blueCov, orangeCov: e_orangeCov },
  { col: 'R', row: 2, tag: '(f)', name: '0N-30N', wide: false,
    blue: f_blue, orange: f_orange, blueHW: f_blueHW, orangeHW: f_orangeHW, blueCov: f_blueCov, orangeCov: f_orangeCov }
];

// ---- layout (pixel boxes of the plotting areas) ----
const ROWS = [
  { top: 10,  split: 274, bottom: 327 },
  { top: 327, split: 592, bottom: 645 },
  { top: 645, split: 909, bottom: 962 }
];
const FIG_H = 991;

// ---- styling ----
const BLUE = '#1f77b4';
const ORANGE = '#ff7f0e';
const BLUE_BAND = 'rgba(31,119,180,0.4)';
const ORANGE_BAND = 'rgba(255,127,14,0.4)';
const TICK_FONT = { family: "'DejaVu Sans', sans-serif", size: 14.5 };

Chart.defaults.font.family = "'DejaVu Sans', sans-serif";
Chart.defaults.color = '#000';

const fig = document.getElementById('fig');

function pts(arr) {
  return years.map((yr, i) => ({ x: yr, y: arr[i] }));
}
function bandEdge(mean, hw, sign) {
  return years.map((yr, i) => ({
    x: yr,
    y: (mean[i] == null || hw[i] == null) ? null : mean[i] + sign * hw[i]
  }));
}

const framePlugin = {
  id: 'frame',
  afterDraw(chart) {
    const { ctx, chartArea: a } = chart;
    ctx.save();
    ctx.strokeStyle = '#000';
    ctx.lineWidth = 2;
    ctx.strokeRect(a.left, a.top, a.right - a.left, a.bottom - a.top);
    ctx.restore();
  }
};

function makeChart(o) {
  const PAD = 14;
  const isLeft = o.col === 'L';
  const cLeft = isLeft ? 0 : 660;
  const cWidth = isLeft ? 700 : 678;
  const cTop = o.top - PAD;
  const cHeight = o.showX ? (FIG_H - cTop) : (o.bottom - o.top + 2 * PAD);
  const canvas = document.createElement('canvas');
  canvas.width = cWidth;
  canvas.height = cHeight;
  canvas.style.left = cLeft + 'px';
  canvas.style.top = cTop + 'px';
  canvas.style.width = cWidth + 'px';
  canvas.style.height = cHeight + 'px';
  fig.appendChild(canvas);

  const yAxisW = isLeft ? 84 : 60;
  const xAxisH = o.showX ? (FIG_H - o.bottom) : 0;
  const showYTicks = !!o.yTickLabels;

  return new Chart(canvas, {
    type: 'line',
    data: { datasets: o.datasets },
    options: {
      responsive: false,
      animation: false,
      devicePixelRatio: 1,
      events: [],
      layout: { padding: { left: isLeft ? 0 : 20, right: isLeft ? 20 : 0, top: PAD, bottom: o.showX ? 0 : PAD } },
      plugins: { legend: { display: false }, tooltip: { enabled: false } },
      elements: { point: { radius: 0 }, line: { tension: 0, borderCapStyle: 'butt', borderJoinStyle: 'round' } },
      scales: {
        x: {
          type: 'linear', min: 1849, max: 2020, display: !!o.showX,
          afterFit(s) { s.height = xAxisH; },
          afterBuildTicks(s) { s.ticks = xTickYears.map(v => ({ value: v })); },
          ticks: {
            callback: (v, i) => (isLeft ? xTickLabelsLeft : xTickLabelsRight)[i],
            autoSkip: false, maxRotation: 0, padding: 4, color: '#000', font: TICK_FONT
          },
          grid: { drawOnChartArea: false, tickLength: 5, color: '#000', lineWidth: 1.3 },
          border: { display: false }
        },
        y: {
          type: 'linear', position: isLeft ? 'left' : 'right', min: o.yMin, max: o.yMax,
          afterFit(s) { s.width = yAxisW; },
          afterBuildTicks(s) { s.ticks = o.yTicks.map(v => ({ value: v })); },
          ticks: {
            display: showYTicks,
            callback: (v, i) => (o.yTickLabels ? o.yTickLabels[i] : ''),
            autoSkip: false, padding: 5, color: '#000', font: TICK_FONT
          },
          grid: { display: showYTicks, drawOnChartArea: false, tickLength: 5, color: '#000', lineWidth: 1.3 },
          border: { display: false },
          title: {
            display: !!o.title, text: o.title || '', color: '#000', font: TICK_FONT,
            padding: { top: o.titlePad || 0, bottom: 0 }
          }
        }
      }
    },
    plugins: [framePlugin]
  });
}

panels.forEach(p => {
  const r = ROWS[p.row];
  const isLeft = p.col === 'L';

  // anomaly panel: bands first (orange under blue), then the two lines
  makeChart({
    col: p.col, top: r.top, bottom: r.split, showX: false,
    yMin: p.wide ? -3.5 : -1.25, yMax: p.wide ? 3.5 : 1.25,
    yTicks: p.wide ? yTicksWide : yTicksNarrow,
    yTickLabels: p.wide ? yTickLabelsWide : yTickLabelsNarrow,
    title: isLeft ? 'Anomaly (\u00B0C)' : null, titlePad: 24,
    datasets: [
      { data: pts(p.blue), borderColor: BLUE, borderWidth: 2.2, fill: false },
      { data: pts(p.orange), borderColor: ORANGE, borderWidth: 2.2, fill: false },
      { data: bandEdge(p.blue, p.blueHW, 1), borderColor: BLUE_BAND, borderWidth: 0.8, backgroundColor: BLUE_BAND, fill: 3 },
      { data: bandEdge(p.blue, p.blueHW, -1), borderColor: BLUE_BAND, borderWidth: 0.8, fill: false },
      { data: bandEdge(p.orange, p.orangeHW, 1), borderColor: ORANGE_BAND, borderWidth: 0.8, backgroundColor: ORANGE_BAND, fill: 5 },
      { data: bandEdge(p.orange, p.orangeHW, -1), borderColor: ORANGE_BAND, borderWidth: 0.8, fill: false }
    ]
  });

  // coverage panel (percent)
  makeChart({
    col: p.col, top: r.split, bottom: r.bottom, showX: p.row === 2,
    yMin: 0, yMax: 100,
    yTicks: yTicksCov,
    yTickLabels: isLeft ? null : yTickLabelsCov,
    title: isLeft ? '%' : null, titlePad: 59,
    datasets: [
      { data: pts(p.blueCov), borderColor: BLUE, borderWidth: 1.8, backgroundColor: BLUE_BAND, fill: 1 },
      { data: pts(p.orangeCov), borderColor: ORANGE, borderWidth: 1.8, backgroundColor: ORANGE_BAND, fill: 'origin' }
    ]
  });

  // panel label
  const lab = document.createElement('div');
  lab.className = 'plabel';
  lab.style.left = (isLeft ? 95 : 694) + 'px';
  lab.style.top = (r.top + 13.5) + 'px';
  lab.textContent = p.tag;
  const nm = document.createElement('span');
  nm.textContent = p.name;
  lab.appendChild(nm);
  fig.appendChild(lab);
});
</script>
</body>
</html>
